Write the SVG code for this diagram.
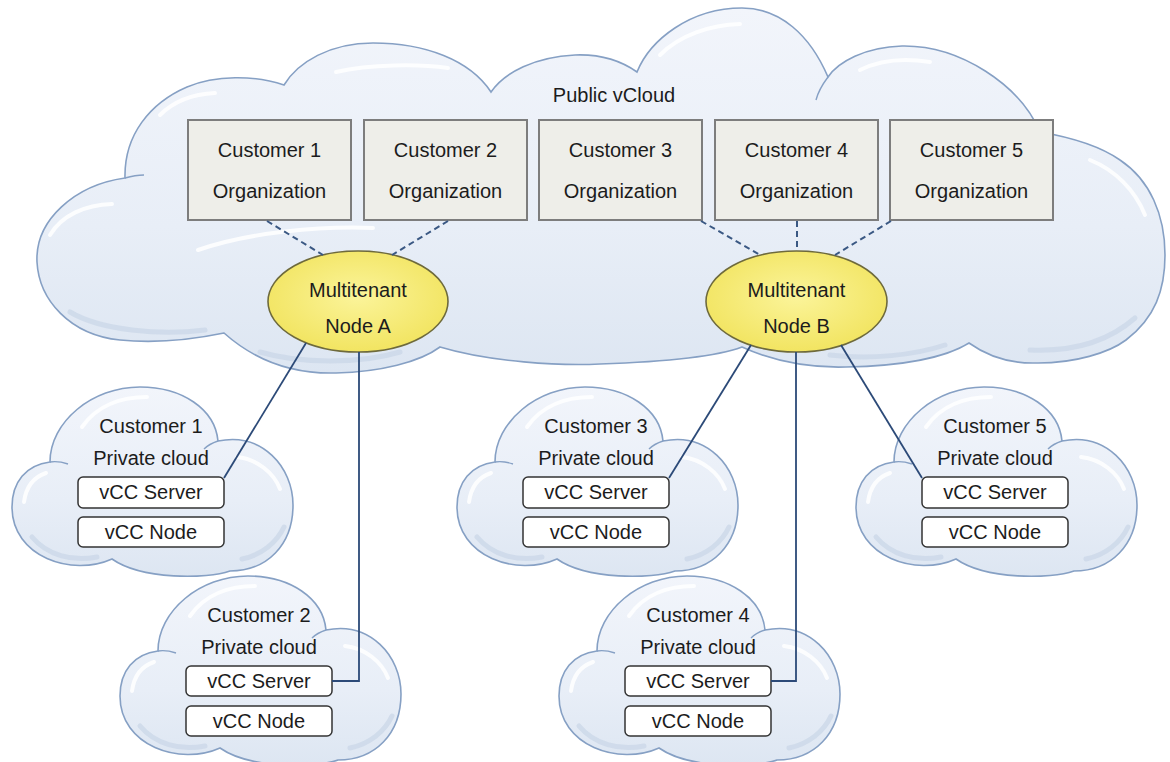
<svg xmlns="http://www.w3.org/2000/svg" xmlns:xlink="http://www.w3.org/1999/xlink" width="1170" height="762" viewBox="0 0 1170 762">
  <defs>
    <linearGradient id="cloudFill" x1="0" y1="0" x2="0" y2="1">
      <stop offset="0" stop-color="#f2f5fb"/>
      <stop offset="0.6" stop-color="#e8eef7"/>
      <stop offset="1" stop-color="#dde6f2"/>
    </linearGradient>
    <radialGradient id="yellowFill" cx="0.5" cy="0.45" r="0.6">
      <stop offset="0" stop-color="#fbf49a"/>
      <stop offset="1" stop-color="#f1e35c"/>
    </radialGradient>
    <g id="pcloud">
      <path class="cloud" d="M 38,75 C 38,35 80,0 128,0 C 170,0 203,22 206,54 C 250,45 281,80 281,118 C 281,158 255,184 218,184 C 195,192 130,193 100,172 C 60,190 0,170 0,120 C 0,95 14,78 38,75 Z"/>
      <path class="hl" d="M 70,40 C 85,18 110,10 135,10"/>
      <path class="hl" d="M 225,70 C 245,72 262,86 268,102"/>
      <path class="hl" d="M 12,115 C 14,100 22,90 34,86"/>
      <path class="shade" d="M 20,150 C 35,168 60,175 85,170"/>
      <path class="shade" d="M 230,172 C 250,168 265,155 272,140"/>
      <path class="tail" d="M 38,75 C 44,74 50,75 56,77"/>
      <path class="tail" d="M 206,54 C 200,56 196,58 192,62"/>
    </g>
  </defs>
  <style>
    .cloud { fill: url(#cloudFill); stroke: #86a0c4; stroke-width: 1.6; }
    .tail { fill: none; stroke: #86a0c4; stroke-width: 1.4; }
    .hl { fill: none; stroke: #ffffff; stroke-width: 4; stroke-linecap: round; opacity: 0.85; }
    .shade { fill: none; stroke: #c9d5e7; stroke-width: 5; stroke-linecap: round; opacity: 0.7; }
    .org { fill: #eeeee9; stroke: #7d7d7d; stroke-width: 2; }
    .node { fill: url(#yellowFill); stroke: #6e6a3c; stroke-width: 1.6; }
    .vcc { fill: #ffffff; stroke: #333333; stroke-width: 1.5; }
    .t { font-family: "Liberation Sans", Arial, sans-serif; font-size: 20px; fill: #1c1c1c; text-anchor: middle; }
    .solid { fill: none; stroke: #2c4a78; stroke-width: 1.8; }
    .dash { fill: none; stroke: #3a5883; stroke-width: 2; stroke-dasharray: 6 4; }
  </style>

  <rect x="0" y="0" width="1170" height="762" fill="#ffffff"/>

  <!-- Public vCloud -->
  <g id="public-vcloud">
    <path class="cloud" d="M 125,178 C 75,185 35,220 37,262 C 39,300 70,335 120,340 C 160,344 200,338 224,333 C 260,365 300,374 336,373 C 380,372 420,362 440,347 C 490,362 560,366 600,364 C 660,362 715,357 742,347 C 775,362 810,368 846,367 C 900,366 945,358 969,343 C 990,358 1010,363 1033,363 C 1075,364 1110,352 1126,340 C 1155,318 1165,290 1165,255 C 1165,215 1150,180 1120,160 C 1100,146 1075,138 1040,132 C 1020,85 960,45 902,46 C 865,47 838,62 828,77 C 810,35 780,8 742,8 C 690,8 650,40 637,72 C 620,60 600,54 575,55 C 535,57 505,72 491,92 C 470,60 425,43 373,43 C 330,43 298,62 284,85 C 255,75 215,75 187,87 C 150,103 124,135 125,178 Z"/>
    <path class="tail" d="M 125,178 C 132,176 138,175 144,175"/>
    <path class="tail" d="M 828,77 C 822,85 818,92 816,100"/>
    <path class="hl" d="M 50,235 C 62,215 85,205 112,204"/>
    <path class="hl" d="M 198,250 C 250,232 320,226 373,228"/>
    <path class="hl" d="M 336,72 C 370,64 420,64 448,68"/>
    <path class="hl" d="M 160,115 C 175,100 195,94 215,93"/>
    <path class="hl" d="M 660,55 C 680,35 710,25 740,24"/>
    <path class="hl" d="M 860,70 C 880,60 905,58 930,62"/>
    <path class="hl" d="M 1090,160 C 1115,170 1135,190 1145,215"/>
    <path class="shade" d="M 70,312 C 100,330 160,336 205,330"/>
    <path class="shade" d="M 260,352 C 300,364 360,364 400,352"/>
    <path class="shade" d="M 830,355 C 870,360 915,355 945,345"/>
    <path class="shade" d="M 1030,350 C 1075,352 1110,340 1135,318"/>
    <text class="t" x="614" y="102">Public vCloud</text>
  </g>

  <!-- Organizations -->
  <g id="org1">
    <rect class="org" x="188" y="120" width="163" height="100"/>
    <text class="t" x="269.5" y="157">Customer 1</text>
    <text class="t" x="269.5" y="198">Organization</text>
  </g>
  <g id="org2">
    <rect class="org" x="364" y="120" width="163" height="100"/>
    <text class="t" x="445.5" y="157">Customer 2</text>
    <text class="t" x="445.5" y="198">Organization</text>
  </g>
  <g id="org3">
    <rect class="org" x="539" y="120" width="163" height="100"/>
    <text class="t" x="620.5" y="157">Customer 3</text>
    <text class="t" x="620.5" y="198">Organization</text>
  </g>
  <g id="org4">
    <rect class="org" x="715" y="120" width="163" height="100"/>
    <text class="t" x="796.5" y="157">Customer 4</text>
    <text class="t" x="796.5" y="198">Organization</text>
  </g>
  <g id="org5">
    <rect class="org" x="890" y="120" width="163" height="100"/>
    <text class="t" x="971.5" y="157">Customer 5</text>
    <text class="t" x="971.5" y="198">Organization</text>
  </g>

  <!-- Multitenant nodes -->
  <g id="node-a">
    <ellipse class="node" cx="358" cy="301.5" rx="90" ry="50.5"/>
    <text class="t" x="358" y="297">Multitenant</text>
    <text class="t" x="358" y="333">Node A</text>
  </g>
  <g id="node-b">
    <ellipse class="node" cx="796.5" cy="301.5" rx="90.5" ry="50.5"/>
    <text class="t" x="796.5" y="297">Multitenant</text>
    <text class="t" x="796.5" y="333">Node B</text>
  </g>

  <!-- Private clouds -->
  <g id="private1">
    <use xlink:href="#pcloud" href="#pcloud" x="12" y="387"/>
    <text class="t" x="151" y="433">Customer 1</text>
    <text class="t" x="151" y="465">Private cloud</text>
    <rect class="vcc" x="78" y="477" width="146" height="31" rx="5"/>
    <text class="t" x="151" y="499">vCC Server</text>
    <rect class="vcc" x="78" y="517" width="146" height="30" rx="5"/>
    <text class="t" x="151" y="539">vCC Node</text>
  </g>
  <g id="private2">
    <use xlink:href="#pcloud" href="#pcloud" x="120" y="576"/>
    <text class="t" x="259" y="622">Customer 2</text>
    <text class="t" x="259" y="654">Private cloud</text>
    <rect class="vcc" x="186" y="666" width="146" height="30" rx="5"/>
    <text class="t" x="259" y="688">vCC Server</text>
    <rect class="vcc" x="186" y="706" width="146" height="30" rx="5"/>
    <text class="t" x="259" y="728">vCC Node</text>
  </g>
  <g id="private3">
    <use xlink:href="#pcloud" href="#pcloud" x="457" y="387"/>
    <text class="t" x="596" y="433">Customer 3</text>
    <text class="t" x="596" y="465">Private cloud</text>
    <rect class="vcc" x="523" y="477" width="146" height="31" rx="5"/>
    <text class="t" x="596" y="499">vCC Server</text>
    <rect class="vcc" x="523" y="517" width="146" height="30" rx="5"/>
    <text class="t" x="596" y="539">vCC Node</text>
  </g>
  <g id="private4">
    <use xlink:href="#pcloud" href="#pcloud" x="559" y="576"/>
    <text class="t" x="698" y="622">Customer 4</text>
    <text class="t" x="698" y="654">Private cloud</text>
    <rect class="vcc" x="625" y="666" width="146" height="30" rx="5"/>
    <text class="t" x="698" y="688">vCC Server</text>
    <rect class="vcc" x="625" y="706" width="146" height="30" rx="5"/>
    <text class="t" x="698" y="728">vCC Node</text>
  </g>
  <g id="private5">
    <use xlink:href="#pcloud" href="#pcloud" x="856" y="387"/>
    <text class="t" x="995" y="433">Customer 5</text>
    <text class="t" x="995" y="465">Private cloud</text>
    <rect class="vcc" x="922" y="477" width="146" height="31" rx="5"/>
    <text class="t" x="995" y="499">vCC Server</text>
    <rect class="vcc" x="922" y="517" width="146" height="30" rx="5"/>
    <text class="t" x="995" y="539">vCC Node</text>
  </g>

  <!-- Connectors -->
  <g id="connectors">
    <path class="dash" d="M 267,221 L 323,255"/>
    <path class="dash" d="M 448,221 L 392,255"/>
    <path class="dash" d="M 701,221 L 760,255"/>
    <path class="dash" d="M 797,221 L 797,251"/>
    <path class="dash" d="M 891,221 L 835,255"/>
    <path class="solid" d="M 306,343 L 224,478"/>
    <path class="solid" d="M 359,352 L 359,681 L 332,681"/>
    <path class="solid" d="M 751,345 L 669,478"/>
    <path class="solid" d="M 796,352 L 796,681 L 771,681"/>
    <path class="solid" d="M 841,345 L 922,478"/>
  </g>
</svg>
